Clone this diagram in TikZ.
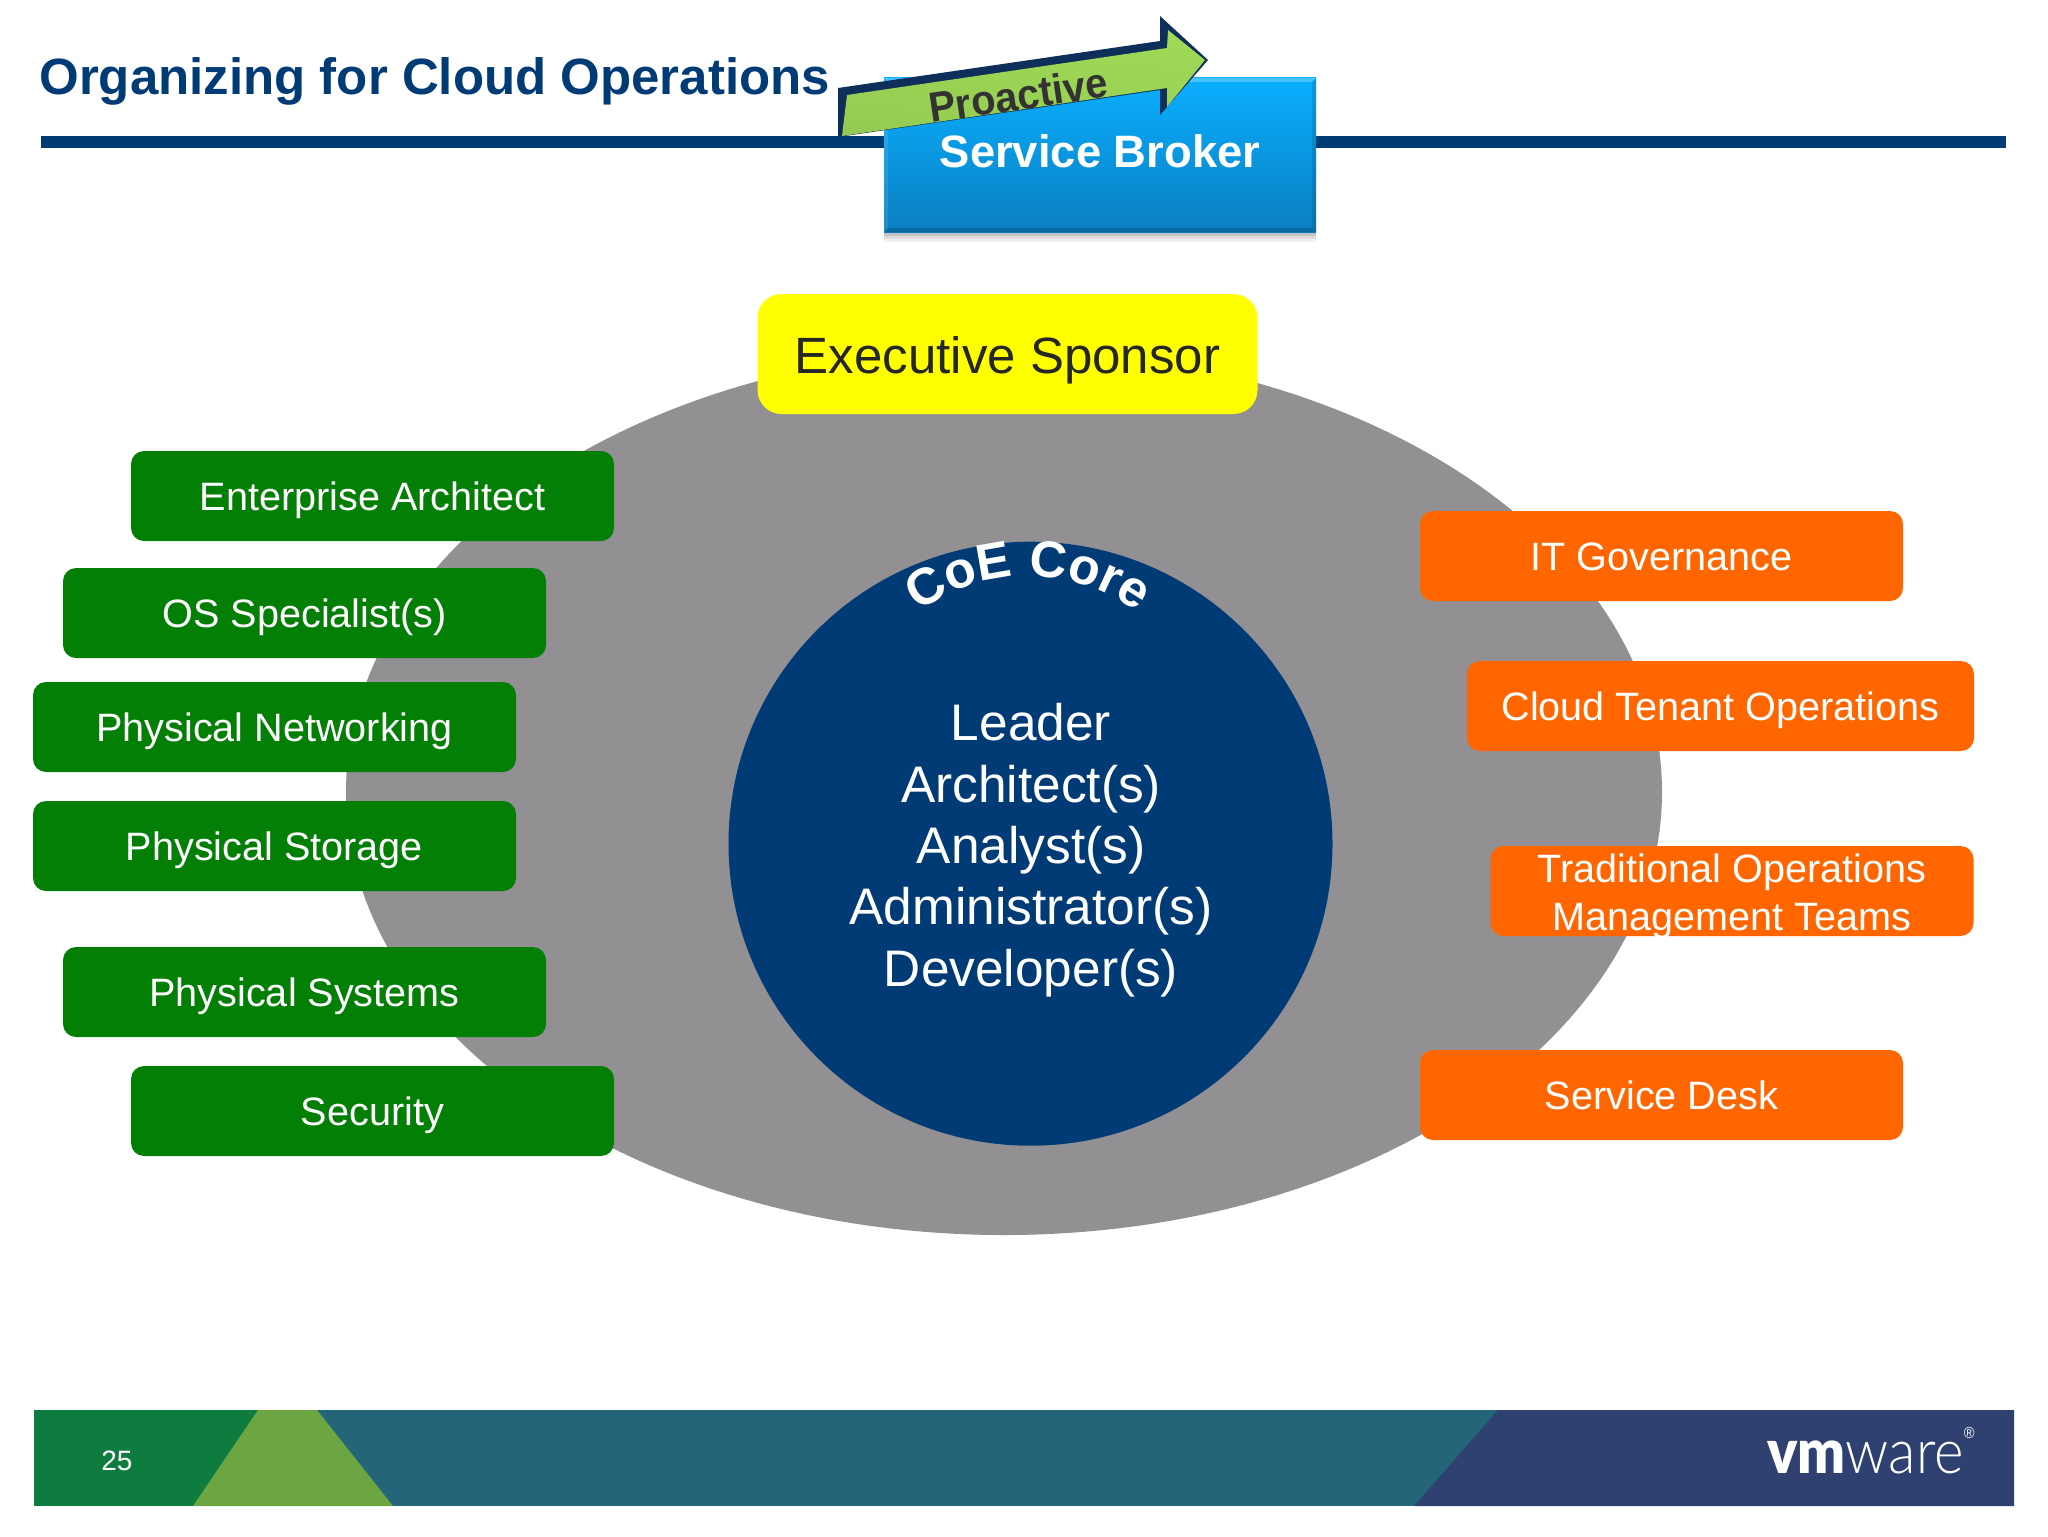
\documentclass[tikz,border=0pt]{standalone}
\usepackage{fontspec}
\setmainfont{Liberation Sans}
\newfontfamily\logolight{Lato Light}
\newfontfamily\logoheavy{Lato Black}
\usetikzlibrary{decorations.text}
\definecolor{navy}{HTML}{003B76}
\definecolor{boxgreen}{HTML}{037F05}
\definecolor{boxorange}{HTML}{FF6600}
\definecolor{ovalgray}{HTML}{929092}
\definecolor{arrowgreen}{HTML}{A0DA58}
\definecolor{arrowdark}{HTML}{0D2F5A}
\definecolor{sponsor}{RGB}{255,255,0}
\definecolor{footgreen}{HTML}{0F7C3F}
\definecolor{footlight}{HTML}{6BA642}
\definecolor{footteal}{HTML}{246678}
\definecolor{footnavy}{HTML}{2F4170}
\definecolor{sbtop}{HTML}{0AAFFF}
\definecolor{sbbot}{HTML}{0A7EC0}
\tikzset{
  rolebox/.style={rectangle,rounded corners=6.5pt,inner sep=0pt,text=white,
    font=\fontsize{19.8}{24}\selectfont,minimum height=45pt,minimum width=241.5pt},
  role/.style={rolebox,text height=14pt,text depth=0pt},
  gbox/.style={role,fill=boxgreen},
  obox/.style={role,fill=boxorange},
  core/.style={text=white,font=\fontsize{25.7}{30.7}\selectfont,inner sep=0pt,text height=17.7pt,text depth=0pt},
}
\begin{document}
\begin{tikzpicture}[x=0.5pt,y=-0.5pt]
\useasboundingbox (0,0) rectangle (2048,1536);
\fill[white] (0,0) rectangle (2048,1536);
% title and rule
\node[anchor=base west,inner sep=0pt,text=navy,font=\fontsize{25.5}{30}\selectfont\bfseries] (title) at (39,95) {Organizing for Cloud Operations};
\fill[navy] (41,136) rectangle (2006,148);
% service broker
\foreach \i/\o in {10/.05,7/.08,4/.12}{
  \fill[black,opacity=\o] (884,84) rectangle (1316,232+\i);}
\shade[top color=sbtop,bottom color=sbbot] (884,78) rectangle (1316,232);
\fill[white,opacity=.25] (884,78) -- (1316,78) -- (1312,82) -- (888,82) -- cycle;
\fill[white,opacity=.10] (884,78) -- (888,82) -- (888,228) -- (884,232) -- cycle;
\fill[black,opacity=.12] (1316,78) -- (1312,82) -- (1312,228) -- (1316,232) -- cycle;
\fill[black,opacity=.15] (884,232) -- (888,228) -- (1312,228) -- (1316,232) -- cycle;
\node[anchor=base,inner sep=0pt,text=white,font=\fontsize{22.7}{28}\selectfont\bfseries] (broker) at (1100,167) {Service Broker};
% proactive arrow
\fill[arrowdark] (838,88) -- (1160,41) -- (1160,16) -- (1208,60) -- (1160,115) -- (1160,90) -- (838,137) -- cycle;
\shade[top color=arrowgreen,bottom color=arrowgreen!93!black,shading angle=-8]
  (847,95) -- (1167,48) -- (1168,30) -- (1205,60) -- (1167,107) -- (1167,88) -- (842,136) -- cycle;
\node[rotate=8.4,xscale=.95,inner sep=0pt,text=black!80,font=\fontsize{21}{24}\selectfont\bfseries] (proactive) at (1018,95) {Proactive};
% oval and core
\fill[ovalgray] (1004,792) ellipse [x radius=658,y radius=443];
\node[circle,fill=navy,minimum size=302pt,inner sep=0pt] (circ) at (1030.5,843.7) {};
\path[decorate,decoration={text along path,text align=center,
  text={|\fontsize{25.7}{26}\selectfont\bfseries\color{white}|CoE Core}}]
  (910.4,618.8) .. controls (978.4,561.7) and (1077.6,561.7) .. (1145.6,618.8);
\node[core] (c1) at (1031,723) {Leader};
\node[core] (c2) at (1031,784.4) {Architect(s)};
\node[core] (c3) at (1031,845.8) {Analyst(s)};
\node[core] (c4) at (1031,907.2) {Administrator(s)};
\node[core] (c5) at (1031,968.6) {Developer(s)};
% sponsor
\node[rectangle,rounded corners=12pt,fill=sponsor,inner sep=0pt,minimum width=250pt,minimum height=60pt,
  text=black!85,font=\fontsize{25.5}{30}\selectfont,text height=19.6pt,text depth=0pt] (exec) at (1007.5,354) {Executive Sponsor};
% green roles
\node[gbox] (ea) at (372.5,496) {Enterprise Architect};
\node[gbox] (os) at (304.5,613) {OS Specialist(s)};
\node[gbox] (pn) at (274.5,727) {Physical Networking};
\node[gbox] (ps) at (274.5,846) {Physical Storage};
\node[gbox] (sy) at (304.5,992) {Physical Systems};
\node[gbox] (se) at (372.5,1111) {Security};
% orange roles
\node[obox] (it) at (1661.5,556) {IT Governance};
\node[obox,minimum width=253.5pt] (ct) at (1720.5,706) {Cloud Tenant Operations};
\node[rolebox,fill=boxorange] (tr) at (1732,891) {};
\node[inner sep=0pt,text=white,align=center,font=\fontsize{19.8}{24}\selectfont] (trl) at (1732,896.2) {Traditional Operations\\Management Teams};
\node[obox] (sd) at (1661.5,1095) {Service Desk};
% footer
\fill[footgreen] (34,1410) rectangle (300,1506);
\fill[footteal] (300,1410) rectangle (1500,1506);
\fill[footnavy] (1498,1410) -- (2014,1410) -- (2014,1506) -- (1414,1506) -- cycle;
\fill[footlight] (258,1410) -- (317,1410) -- (393,1506) -- (193,1506) -- cycle;
\node[inner sep=0pt,text=white,font=\fontsize{14}{16}\selectfont] (page) at (117,1461) {25};
\node[anchor=base east,inner sep=0pt,text=white,font=\fontsize{31}{36}\selectfont,xscale=.91] (logo) at (1975,1473)
  {{\logoheavy vm}{\logolight ware}\raisebox{.55em}{\fontsize{8}{8}\selectfont\textregistered}};
\end{tikzpicture}
\end{document}
